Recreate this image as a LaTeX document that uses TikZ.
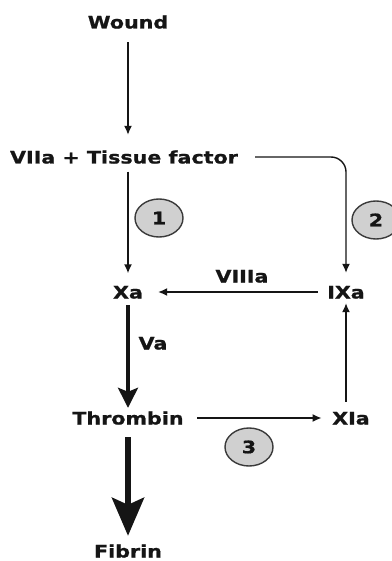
\documentclass[tikz,border=0pt]{standalone}
\usepackage{fontspec}
\usepackage{tikz}
\usepackage{xcolor}
\usetikzlibrary{arrows.meta,positioning,shapes.geometric}
\newfontfamily\pathfont{DejaVu Sans}[FakeStretch=1.2,BoldFeatures={FakeBold=1}]
\definecolor{lineink}{HTML}{151515}
\definecolor{stepgray}{HTML}{D0D0D0}
\definecolor{stepedge}{HTML}{3A3A3A}
\tikzset{
  factor/.style={inner sep=0pt,text height=13pt,text depth=0pt,text=lineink,
                 font=\pathfont\bfseries\fontsize{17.2}{20}\selectfont},
  stepnum/.style={factor,ellipse,draw=stepedge,fill=stepgray,line width=1.4pt,
                  minimum width=48pt,minimum height=38pt,text height=12.5pt},
  thinflow/.style={draw=lineink,line width=1.4pt,-{Latex[length=9pt,width=8pt]}},
  boldflow/.style={draw=lineink,line width=3.5pt,-{Stealth[length=20pt,width=20pt,inset=4pt]}},
  heavyflow/.style={draw=lineink,line width=6pt,-{Stealth[length=38pt,width=32pt,inset=7pt]}}
}

\begin{document}
\begin{tikzpicture}[x=1pt,y=-1pt]
  \useasboundingbox[fill=white] (0,0) rectangle (391,561);

  % factors
  \node[factor] (wound)    at (128,22)  {Wound};
  \node[factor] (vii)      at (124,157) {VIIa + Tissue factor};
  \node[factor] (xa)       at (128,292) {Xa};
  \node[factor] (ixa)      at (346,292) {IXa};
  \node[factor] (thrombin) at (128,418) {Thrombin};
  \node[factor] (xia)      at (351,418) {XIa};
  \node[factor] (fibrin)   at (128,551) {Fibrin};

  % cofactor labels
  \node[factor] (viii) at (242,276) {VIIIa};
  \node[factor] (va)   at (153,343) {Va};

  % numbered steps
  \node[stepnum] (one)   at (159,218) {1};
  \node[stepnum] (two)   at (376,220) {2};
  \node[stepnum] (three) at (249,447) {3};

  % flow
  \draw[thinflow,shorten <=13.5pt,shorten >=15.5pt] (wound.south) -- (vii.north -| wound.south);
  \draw[thinflow,shorten <=8pt,shorten >=12pt] (vii.south -| xa.north) -- (xa.north);
  \draw[thinflow,rounded corners=15pt,shorten <=17pt,shorten >=12.5pt] (vii.east) -| (ixa.north);
  \draw[thinflow,shorten <=9.5pt,shorten >=15pt] (ixa.west) -- (xa.east);
  \draw[boldflow,shorten <=6.5pt,shorten >=3.5pt] (xa.south) -- (thrombin.north);
  \draw[thinflow,shorten <=13.5pt,shorten >=10.5pt] (thrombin.east) -- (xia.west);
  \draw[thinflow,shorten <=9.5pt,shorten >=4.5pt] (xia.north -| ixa.south) -- (ixa.south);
  \draw[heavyflow,shorten <=12.5pt,shorten >=8.5pt] (thrombin.south) -- (fibrin.north);
\end{tikzpicture}
\end{document}
